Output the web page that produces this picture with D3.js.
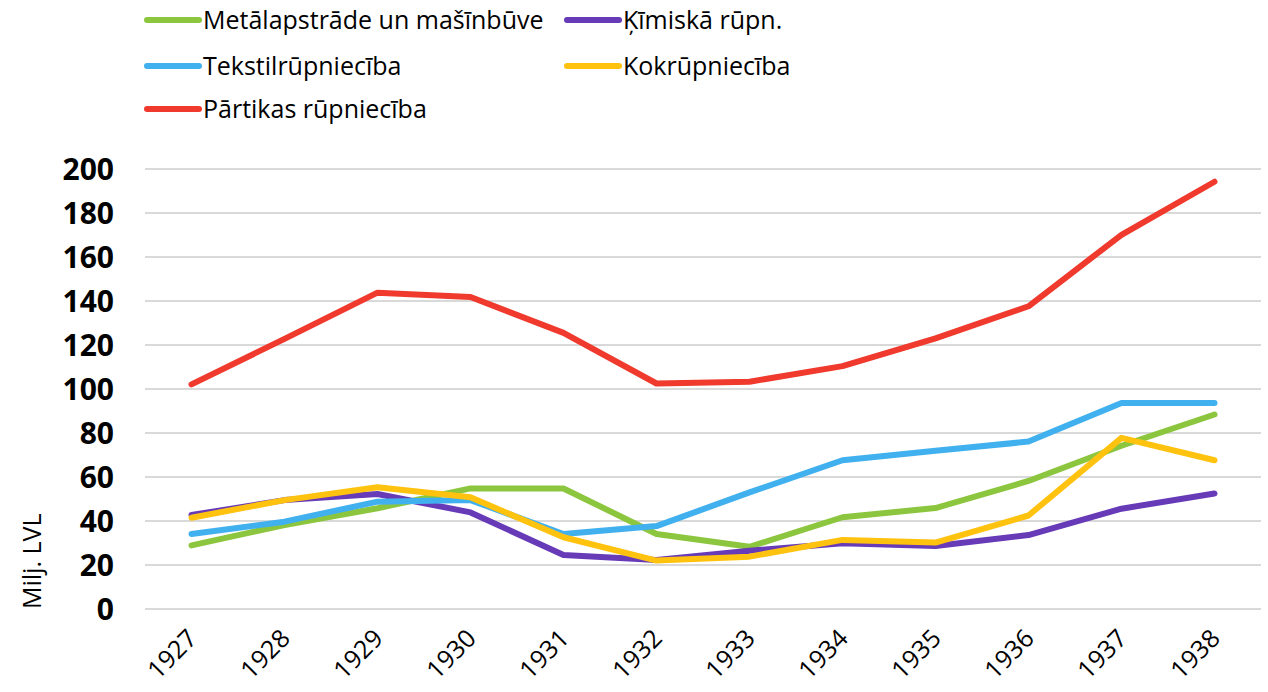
<!DOCTYPE html>
<html>
<head>
<meta charset="utf-8">
<script src="https://cdn.jsdelivr.net/npm/d3@7"></script>
<style>
  body { margin: 0; background: #fff; }
  svg text { font-family: "Open Sans", "Lato", sans-serif; fill: #000; }
</style>
</head>
<body>
<svg id="chart" width="1268" height="692"></svg>
<script>
var years = ["1927", "1928", "1929", "1930", "1931", "1932", "1933", "1934", "1935", "1936", "1937", "1938"];
var yTicks = [0, 20, 40, 60, 80, 100, 120, 140, 160, 180, 200];

var seriesNames = ["Metālapstrāde un mašīnbūve", "Ķīmiskā rūpn.", "Tekstilrūpniecība", "Kokrūpniecība", "Pārtikas rūpniecība"];
var metals  = [28.9, 38.2, 45.8, 54.8, 54.8, 34.1, 28.3, 41.7, 45.9, 58.2, 74.2, 88.4];
var chem    = [42.7, 49.5, 52.3, 43.9, 24.5, 22.3, 26.5, 29.9, 28.6, 33.6, 45.6, 52.5];
var textile = [34.1, 39.7, 48.8, 49.5, 34.1, 37.7, 53.0, 67.6, 71.9, 76.1, 93.6, 93.6];
var wood    = [41.5, 49.5, 55.3, 50.8, 32.6, 22.0, 23.8, 31.4, 30.2, 42.5, 77.8, 67.6];
var food    = [102.1, 122.8, 143.8, 141.8, 125.5, 102.5, 103.3, 110.4, 123.0, 137.6, 170.1, 194.2];
var colors  = ["#8cc63e", "#673ab7", "#41b0ee", "#ffc20e", "#ef3a2d"];

var allSeries = [metals, chem, textile, wood, food];

var svg = d3.select("#chart");
var margin = { top: 169, bottom: 83, left: 145, right: 7 };
var width = 1268, height = 692;

var x = d3.scaleBand()
  .domain(years)
  .range([margin.left, width - margin.right]);

var y = d3.scaleLinear()
  .domain([0, 200])
  .range([height - margin.bottom, margin.top]);

// grid
svg.append("g")
  .selectAll("line")
  .data(yTicks)
  .enter().append("line")
  .attr("x1", margin.left)
  .attr("x2", width - margin.right)
  .attr("y1", function (d) { return y(d); })
  .attr("y2", function (d) { return y(d); })
  .attr("stroke", "#d9d9d9")
  .attr("stroke-width", 2);

// y axis
var yAxis = d3.axisLeft(y).tickValues(yTicks).tickSize(0).tickPadding(0);
var gy = svg.append("g")
  .attr("transform", "translate(114,0)")
  .call(yAxis);
gy.select(".domain").remove();
gy.selectAll("text")
  .style("font-size", "30px")
  .style("font-weight", "bold")
  .attr("dy", "0.36em");

// x axis
var xAxis = d3.axisBottom(x).tickSize(0).tickPadding(0);
var gx = svg.append("g")
  .attr("transform", "translate(0," + (height - margin.bottom) + ")")
  .call(xAxis);
gx.select(".domain").remove();
gx.selectAll("text")
  .style("font-size", "25px")
  .attr("text-anchor", "end")
  .attr("dy", null)
  .attr("y", 0)
  .attr("transform", "translate(7,31) rotate(-45)");

// axis title
svg.append("text")
  .attr("transform", "translate(41,609) rotate(-90)")
  .attr("text-anchor", "start")
  .style("font-size", "25px")
  .text("Milj. LVL");

// lines
var line = d3.line()
  .x(function (d, i) { return x(years[i]) + x.bandwidth() / 2; })
  .y(function (d) { return y(d); });

svg.append("g")
  .selectAll("path")
  .data(allSeries)
  .enter().append("path")
  .attr("d", line)
  .attr("fill", "none")
  .attr("stroke", function (d, i) { return colors[i]; })
  .attr("stroke-width", 6)
  .attr("stroke-linecap", "round")
  .attr("stroke-linejoin", "round");

// legend
var legendPos = [
  { x: 147, y: 20 }, { x: 567, y: 20 },
  { x: 147, y: 66 }, { x: 567, y: 66 },
  { x: 147, y: 109 }
];
var legend = svg.append("g")
  .selectAll("g")
  .data(seriesNames)
  .enter().append("g")
  .attr("transform", function (d, i) { return "translate(" + legendPos[i].x + "," + legendPos[i].y + ")"; });

legend.append("line")
  .attr("x1", 0).attr("x2", 52)
  .attr("stroke", function (d, i) { return colors[i]; })
  .attr("stroke-width", 6)
  .attr("stroke-linecap", "round");

legend.append("text")
  .attr("x", 56)
  .attr("dy", "0.36em")
  .style("font-size", "25px")
  .text(function (d) { return d; });
</script>
</body>
</html>
